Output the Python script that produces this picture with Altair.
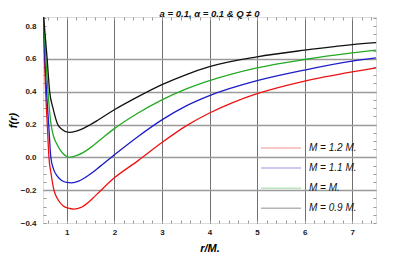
import altair as alt
import pandas as pd

labels = ["M = 1.2 M.", "M = 1.1 M.", "M = M.", "M = 0.9 M."]
colors = ["#ee1111", "#1c1cc8", "#22aa22", "#111111"]

r_red = [0.5, 0.53, 0.555, 0.59, 0.625, 0.67, 0.73, 0.82, 0.92, 1.03, 1.15, 1.3, 1.48, 1.72, 2.0, 2.5, 3.0, 3.5, 4.0, 4.5, 5.0, 6.0, 7.0, 7.5]
f_red = [0.95, 0.6, 0.4, 0.2, 0.0, -0.1, -0.2, -0.26, -0.295, -0.31, -0.315, -0.305, -0.267, -0.2, -0.125, -0.02, 0.09, 0.19, 0.27, 0.335, 0.388, 0.465, 0.521, 0.545]

r_blue = [0.5, 0.54, 0.575, 0.62, 0.665, 0.72, 0.8, 0.9, 1.0, 1.1, 1.25, 1.48, 1.7, 1.9, 2.0, 2.5, 3.0, 3.5, 4.0, 5.0, 6.0, 7.0, 7.5]
f_blue = [0.92, 0.6, 0.4, 0.2, 0.0, -0.07, -0.115, -0.143, -0.153, -0.155, -0.145, -0.105, -0.055, -0.008, 0.015, 0.127, 0.228, 0.312, 0.376, 0.467, 0.532, 0.586, 0.606]

r_green = [0.5, 0.56, 0.605, 0.67, 0.72, 0.78, 0.85, 0.93, 1.05, 1.2, 1.35, 1.48, 1.75, 2.0, 2.5, 3.0, 3.5, 4.0, 5.0, 6.0, 7.0, 7.5]
f_green = [0.9, 0.6, 0.4, 0.2, 0.13, 0.087, 0.05, 0.02, 0.0, 0.01, 0.03, 0.055, 0.118, 0.175, 0.27, 0.35, 0.415, 0.467, 0.545, 0.596, 0.636, 0.653]

r_black = [0.5, 0.587, 0.64, 0.71, 0.81, 0.9, 1.05, 1.2, 1.35, 1.5, 1.65, 2.0, 2.5, 3.0, 3.5, 4.0, 5.0, 6.0, 7.0, 7.5]
f_black = [0.9, 0.6, 0.4, 0.3, 0.2, 0.17, 0.152, 0.16, 0.176, 0.2, 0.226, 0.29, 0.37, 0.443, 0.503, 0.552, 0.612, 0.653, 0.687, 0.699]

x_ticks = [round(0.6 + 0.2 * i, 2) for i in range(35)]
y_ticks = [round(-0.4 + 0.05 * i, 2) for i in range(26)]

rows = []
for lab, rs, fs in zip(labels, [r_red, r_blue, r_green, r_black], [f_red, f_blue, f_green, f_black]):
    for r, f in zip(rs, fs):
        rows.append({"r": r, "f": f, "series": lab})
df = pd.DataFrame(rows)

FONT = "Liberation Sans"
xscale = alt.Scale(domain=[0.5, 7.5], nice=False, zero=False)
yscale = alt.Scale(domain=[-0.4, 0.855], nice=False, zero=False)

x_major = "abs(datum.value - round(datum.value)) < 0.001"
y_major = "abs(datum.value * 5 - round(datum.value * 5)) < 0.001"

common = dict(domain=False, tickColor="#999999", tickSize=3, offset=-3, tickWidth=1,
              labelFont=FONT, labelFontSize=8, labelFontWeight="bold", labelColor="#222222")

x_axis = alt.Axis(values=x_ticks, title="r/M.", labelExpr=f"{x_major} ? format(datum.value, 'd') : ''",
                  gridOpacity={"condition": {"test": x_major, "value": 1}, "value": 0},
                  gridColor="#707070", gridWidth=1, labelPadding=5, labelFlush=False,
                  titleFont=FONT, titleFontSize=11, titleFontStyle="italic", titleFontWeight="bold",
                  titlePadding=6, **common)
y_axis = alt.Axis(values=y_ticks, title="f(r)", labelExpr=f"{y_major} ? format(datum.value, '.1f') : ''",
                  gridOpacity={"condition": {"test": f"{y_major} && datum.value > -0.3 && datum.value < 0.7", "value": 1}, "value": 0},
                  gridColor="#9a9a9a", gridWidth=1.5, labelPadding=7, labelFlush=False,
                  titleFont=FONT, titleFontSize=11, titleFontStyle="italic", titleFontWeight="bold",
                  titlePadding=2, **common)
x_top = alt.Axis(values=x_ticks, orient="top", labels=False, title=None, grid=False, domain=False,
                 tickColor="#999999", tickSize=3, offset=-3)
y_right = alt.Axis(values=y_ticks, orient="right", labels=False, title=None, grid=False, domain=False,
                   tickColor="#999999", tickSize=3, offset=-3)

lines = alt.Chart(df).mark_line(clip=True, strokeWidth=1.3, interpolate="monotone").encode(
    x=alt.X("r:Q", scale=xscale, axis=x_axis),
    y=alt.Y("f:Q", scale=yscale, axis=y_axis),
    color=alt.Color("series:N", sort=labels, scale=alt.Scale(domain=labels, range=colors),
                    legend=alt.Legend(orient="none", legendX=232, legendY=125, title=None,
                                      symbolType="M-4,0H4", symbolSize=100, symbolStrokeWidth=1.5,
                                      symbolOpacity=0.3, labelFont=FONT, labelFontSize=10,
                                      labelFontStyle="italic", labelColor="#111111",
                                      labelOffset=22, rowPadding=9.1, padding=0)),
    detail="series:N",
)

frame = alt.Chart(df).mark_point(opacity=0).encode(
    x=alt.X("r:Q", scale=xscale, axis=x_top),
    y=alt.Y("f:Q", scale=yscale, axis=y_right),
)

chart = alt.layer(lines, frame).resolve_axis(x="independent", y="independent").properties(
    width=333, height=206,
    title=alt.TitleParams("a = 0.1, α = 0.1 & Q ≠ 0", font=FONT, fontSize=9.5, fontStyle="italic",
                          fontWeight="bold", anchor="middle", offset=0, dy=20, frame="group",
                          color="#111111"),
    autosize=alt.AutoSizeParams(type="none"),
    padding={"left": 35, "top": 9, "right": 30, "bottom": 30},
).configure_view(stroke="#c4c4c4", strokeWidth=1.2).configure(background="white")

chart.save("out.html", embed_options={"renderer": "svg", "actions": False})
